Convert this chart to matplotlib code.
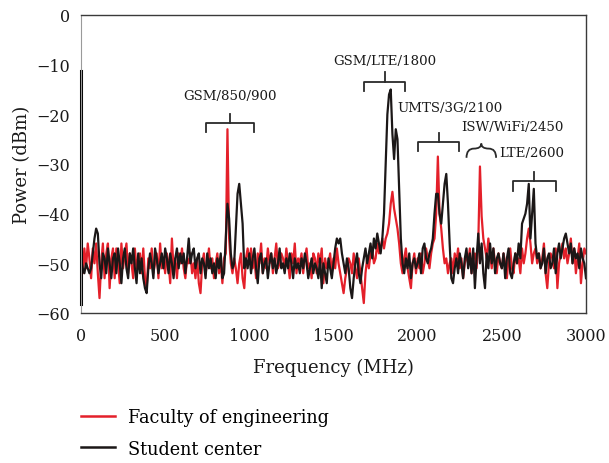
import numpy as np
import matplotlib
matplotlib.use("Agg")
import matplotlib.pyplot as plt
from matplotlib.path import Path
from matplotlib.patches import PathPatch
from matplotlib.lines import Line2D

plt.rcParams['font.family'] = ['DejaVu Serif']

# ---------------- data ----------------
freq_mhz = np.arange(0, 3001, 10)

faculty_dbm = [
    -49, -52, -47, -51, -46, -49, -53, -47, -50, -46,
    -52, -57, -50, -46, -53, -48, -46, -55, -49, -47,
    -53, -47, -50, -54, -46, -51, -48, -46, -52, -48,
    -50, -53, -47, -51, -49, -48, -52, -47, -53, -55,
    -49, -51, -47, -52, -50, -48, -53, -46, -51, -49,
    -52, -48, -50, -54, -45, -51, -49, -53, -48, -50,
    -47, -51, -53, -49, -50, -48, -52, -50, -53, -49,
    -54, -56, -50, -48, -52, -50, -47, -51, -49, -53,
    -50, -48, -52, -50, -54, -49, -48, -23, -45, -50,
    -52, -49, -51, -54, -50, -48, -53, -55, -49, -47,
    -50, -47, -51, -49, -53, -48, -50, -46, -52, -49,
    -51, -47, -50, -48, -52, -49, -46, -51, -50, -48,
    -49, -51, -47, -50, -53, -48, -50, -46, -52, -49,
    -50, -48, -52, -49, -47, -51, -50, -53, -48, -49,
    -52, -48, -50, -47, -54, -49, -51, -50, -48, -52,
    -49, -51, -47, -50, -52, -54, -56, -53, -51, -49,
    -50, -52, -48, -51, -53, -49, -52, -55, -58, -52,
    -49, -51, -48, -47, -50, -49, -46, -48, -47, -45,
    -47, -45, -44, -42, -38, -35.6, -39, -41, -43, -46,
    -50, -52, -49, -47, -51, -53, -55, -50, -48, -52,
    -49, -51, -48, -52, -50, -47, -49, -51, -48, -46,
    -45, -40, -28.5, -40, -43, -47, -50, -49, -52, -50,
    -49, -52, -48, -50, -47, -51, -49, -53, -50, -48,
    -50, -47, -52, -49, -48, -51, -46, -30.5, -40.5, -45,
    -47, -49, -45, -48, -51, -47, -50, -52, -48, -50,
    -51, -48, -50, -53, -49, -47, -51, -52, -48, -50,
    -49, -52, -47, -50, -48, -45, -43, -46, -50, -48,
    -47, -50, -48, -51, -49, -46, -52, -55, -50, -48,
    -49, -51, -47, -55, -50, -48, -46, -49, -47, -50,
    -48, -45, -50, -47, -52, -49, -46, -54, -50, -47,
    -48,
]

student_dbm = [
    -49, -51, -52, -50, -51, -52, -51, -48, -45, -43,
    -44, -50, -53, -48, -49, -52, -47, -50, -53, -49,
    -48, -52, -47, -50, -54, -49, -47, -51, -53, -48,
    -50, -47, -51, -54, -48, -52, -49, -53, -55, -56,
    -51, -48, -50, -53, -47, -49, -52, -50, -48, -51,
    -47, -49, -52, -48, -50, -53, -49, -47, -51, -48,
    -50, -48, -52, -49, -45, -50, -48, -47, -51, -49,
    -48, -52, -49, -50, -53, -48, -51, -49, -52, -50,
    -53, -49, -51, -48, -53, -52, -45, -38, -41, -48,
    -51, -50, -43, -36, -34, -38, -42, -51, -49, -51,
    -48, -52, -49, -47, -51, -54, -49, -48, -52, -50,
    -49, -53, -50, -48, -51, -49, -52, -50, -47, -51,
    -50, -52, -49, -51, -48, -50, -53, -49, -51, -50,
    -52, -49, -51, -48, -50, -53, -51, -49, -52, -50,
    -51, -53, -49, -55, -50, -52, -54, -49, -51, -53,
    -50, -47, -45, -46, -45, -48, -50, -52, -49, -51,
    -55, -57, -53, -50, -48, -52, -54, -51, -49, -47,
    -50, -48, -46, -49, -45, -47, -44, -46, -48, -45,
    -40, -30, -20, -16, -15, -24, -29, -23, -25, -35,
    -45, -50, -52, -49, -51, -48, -53, -50, -49, -51,
    -50, -48, -52, -47, -46, -49, -50, -48, -47, -45,
    -40, -36, -36, -40, -42, -38, -34, -32, -38, -46,
    -53, -54, -51, -49, -52, -48, -50, -53, -49, -47,
    -51, -48, -52, -47, -55, -49, -44, -50, -46, -52,
    -55, -48, -51, -46, -50, -47, -52, -49, -48, -50,
    -51, -48, -53, -49, -47, -52, -53, -50, -48, -50,
    -46, -49, -42, -41, -40, -38, -34, -45, -40, -35,
    -46, -49, -48, -51, -50, -47, -52, -49, -48, -51,
    -50, -47, -52, -48, -46, -49, -47, -45, -44, -46,
    -48, -46, -50, -47, -49, -48, -51, -47, -49, -50,
    -53,
]

band_labels = ["GSM/850/900", "GSM/LTE/1800", "UMTS/3G/2100", "ISW/WiFi/2450", "LTE/2600"]
band_left = [742, 1681, 2002, 2290, 2564]
band_right = [1028, 1925, 2245, 2466, 2822]
band_center = [885, 1803, 2127, 2378, 2691]
band_bracket_y = [-21.7, -13.4, -25.6, -26.9, -33.5]
band_label_x = [885, 1803, 2192, 2564, 2676]
band_label_y = [-16.3, -9.1, -18.7, -22.5, -27.6]
band_curly = [False, False, False, True, False]

series_labels = ["Faculty of engineering", "Student center"]

x_ticks = [0, 500, 1000, 1500, 2000, 2500, 3000]
y_ticks = [0, -10, -20, -30, -40, -50, -60]

# ---------------- figure ----------------
fig = plt.figure(figsize=(6.09, 4.64), dpi=100)
ax = fig.add_axes([81/609, 1-314/464, 505/609, 298/464])

red = "#e4202a"
black = "#1b1717"
ax.plot(freq_mhz, faculty_dbm, color=red, lw=1.6, solid_joinstyle="round")
ax.plot(freq_mhz, student_dbm, color=black, lw=1.6, solid_joinstyle="round")

ax.set_xlim(0, 3000)
ax.set_ylim(-60, 0)
ax.set_xticks(x_ticks)
ax.set_yticks(y_ticks)
ax.set_yticklabels([str(v).replace("-", "\u2212") for v in y_ticks])
ax.tick_params(length=0, labelsize=11.5, colors="#1a1a1a")
ax.tick_params(axis="y", pad=8)
ax.tick_params(axis="x", pad=10)

for s in ["top", "right", "bottom"]:
    ax.spines[s].set_color("#3a3a3a")
    ax.spines[s].set_linewidth(1.0)
ax.spines["left"].set_color("#9a9a9a")
ax.spines["left"].set_linewidth(0.8)
ax.axvline(0, ymin=(60-58.2)/60, ymax=(60-11.2)/60, color="black", lw=2.2, clip_on=False)

ax.set_xlabel("Frequency (MHz)", fontsize=13, color="#1a1a1a", labelpad=10)
ax.set_ylabel("Power (dBm)", fontsize=13, color="#1a1a1a", labelpad=4)

# brackets
depth = 1.85
bc = "#2a2a2a"
for lab, l, r, c, yb, lx, ly, curly in zip(band_labels, band_left, band_right, band_center,
                                         band_bracket_y, band_label_x, band_label_y, band_curly):
    if curly:
        verts = [(l, yb - depth), (l, yb), ((l + c) / 2, yb), (c, yb), (c, yb + depth * 0.55),
                 (c, yb), ((c + r) / 2, yb), (r, yb), (r, yb - depth)]
        codes = [Path.MOVETO, Path.CURVE3, Path.CURVE3, Path.CURVE3, Path.CURVE3,
                 Path.CURVE3, Path.CURVE3, Path.CURVE3, Path.CURVE3]
        ax.add_patch(PathPatch(Path(verts, codes), fill=False, edgecolor=bc, lw=1.3))
    else:
        ax.plot([l, l, r, r], [yb - depth, yb, yb, yb - depth], color=bc, lw=1.3,
                solid_joinstyle="round")
        ax.plot([c, c], [yb, yb + depth], color=bc, lw=1.3)
    ax.text(lx, ly, lab, ha="center", va="center", fontsize=9.6, color="#1a1a1a")

handles = [Line2D([], [], color=red, lw=1.8), Line2D([], [], color=black, lw=1.8)]
fig.legend(handles, series_labels, loc="center left", bbox_to_anchor=(81/609, 1-434/464),
           frameon=False, fontsize=12.7, handlelength=1.9, handletextpad=0.75,
           labelspacing=0.75, borderaxespad=0, borderpad=0)

fig.savefig("out.png", dpi=100)
